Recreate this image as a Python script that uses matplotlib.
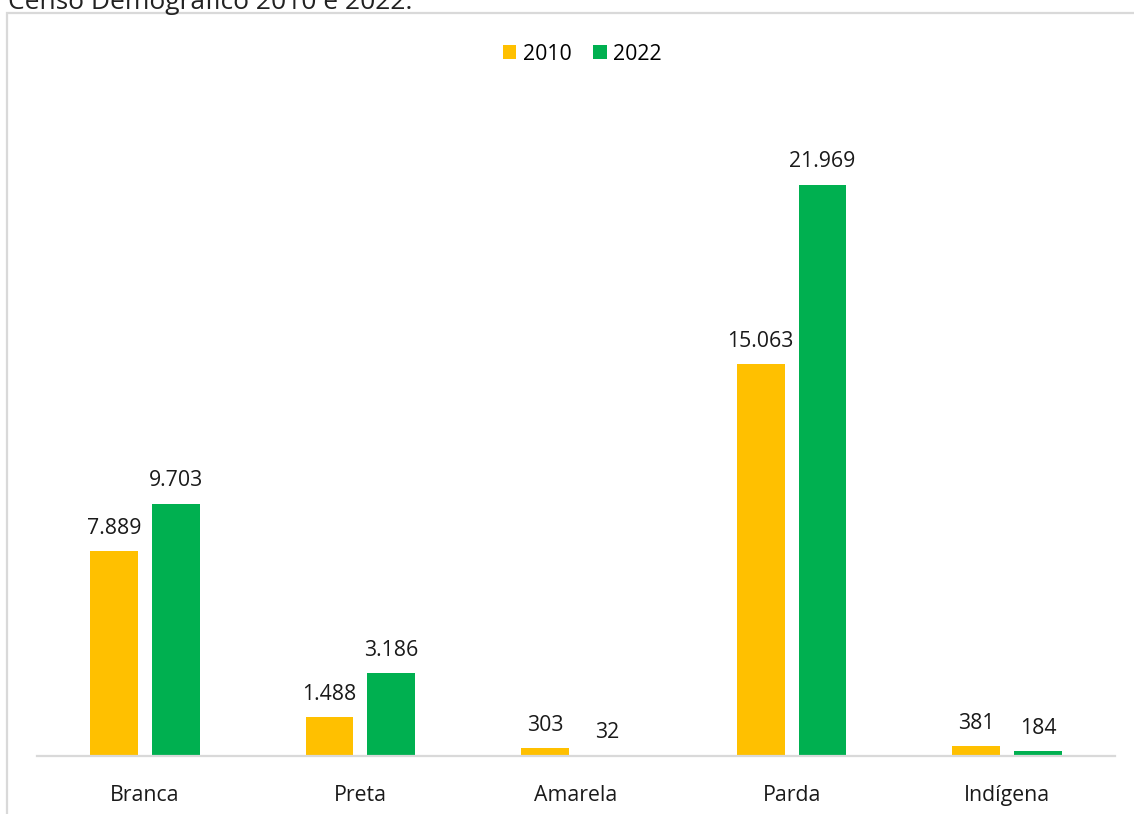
import matplotlib
matplotlib.use("Agg")
from matplotlib import pyplot as plt
from matplotlib.patches import Rectangle, Patch
import numpy as np

plt.rcParams['font.family'] = ['Open Sans', 'DejaVu Sans']

categories = ["Branca", "Preta", "Amarela", "Parda", "Indígena"]
years = ["2010", "2022"]
values_2010 = [7889, 1488, 303, 15063, 381]
values_2022 = [9703, 3186, 32, 21969, 184]
colors = ["#FFC000", "#00B050"]
title = "Censo Demográfico 2010 e 2022."


def fmt(v):
    return f"{v:,}".replace(",", ".")


W, H = 1134, 814
fig = plt.figure(figsize=(W / 100, H / 100), dpi=100)

# frame round the chart area (its bottom and right edges fall outside the picture)
fig.patches.append(Rectangle((7 / W, -0.05), 1.2, 1 - 13 / H + 0.05,
                             transform=fig.transFigure, fill=False,
                             edgecolor="#D9D9D9", linewidth=1.6))

# title, mostly cut off by the top edge (as in the source)
fig.text(8 / W, 1 - 9 / H, title, fontsize=19, color="#222222",
         ha="left", va="baseline")

ax = fig.add_axes([37 / W, 1 - 756 / H, 1078 / W, 650 / H])

x = np.arange(len(categories))
w = 0.222
gap = 0.065
bars = [
    ax.bar(x - (w + gap) / 2, values_2010, w, color=colors[0], label=years[0]),
    ax.bar(x + (w + gap) / 2, values_2022, w, color=colors[1], label=years[1]),
]

for bc, vals in zip(bars, [values_2010, values_2022]):
    for rect, v in zip(bc, vals):
        ax.annotate(fmt(v), (rect.get_x() + rect.get_width() / 2, rect.get_height()),
                    xytext=(0, 12.5), textcoords="offset points",
                    ha="center", va="baseline", fontsize=15.3, color="#1a1a1a")

ax.set_xlim(-0.5, len(categories) - 0.5)
ax.set_ylim(0, 25000)
ax.set_xticks(x)
ax.set_xticklabels(categories, fontsize=15.3, color="#1a1a1a")
ax.tick_params(axis="x", length=0, pad=21)
ax.set_yticks([])
for s in ["top", "right", "left"]:
    ax.spines[s].set_visible(False)
ax.spines["bottom"].set_color("#D9D9D9")
ax.spines["bottom"].set_linewidth(1.6)

handles = [Patch(facecolor=c, label=y) for c, y in zip(colors, years)]
fig.legend(handles=handles, loc="center", bbox_to_anchor=(582 / W, 1 - 54 / H),
           ncol=2, frameon=False, fontsize=15.3, handlelength=0.65,
           handleheight=0.65, handletextpad=0.3, columnspacing=1.0)

fig.savefig("out.png", dpi=100)
plt.close(fig)
